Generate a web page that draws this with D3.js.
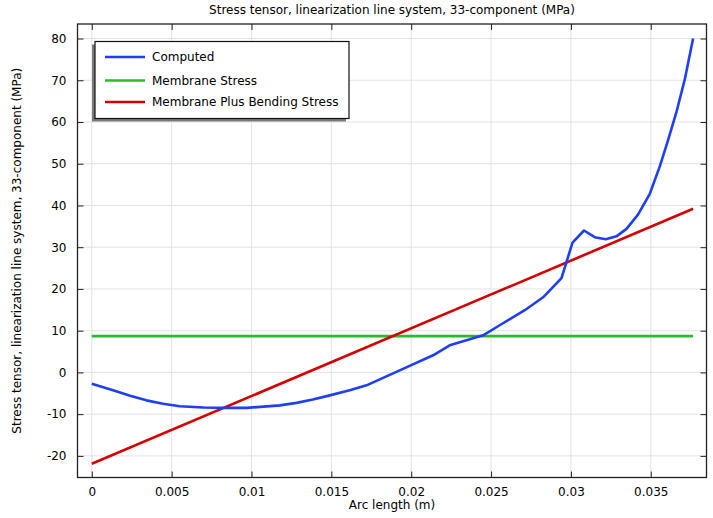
<!DOCTYPE html>
<html>
<head>
<meta charset="utf-8">
<script src="https://cdn.jsdelivr.net/npm/d3@7"></script>
<style>
  body { margin: 0; background: #fff; }
  text { font-family: "DejaVu Sans", sans-serif; fill: #000; }
</style>
</head>
<body>
<div class="vis-chart"></div>
<script>
// arc length (m) and computed stress (MPa)
const arcLength = [0, 0.00133, 0.0024, 0.00342, 0.00446, 0.00551, 0.0070, 0.0083, 0.00969,
  0.01177, 0.01282, 0.01384, 0.0149, 0.01615,
  0.0172, 0.01928, 0.02137, 0.02241, 0.02346, 0.0245, 0.02554, 0.02711, 0.02826, 0.02941,
  0.0301, 0.03082, 0.03149, 0.03218, 0.03285, 0.03348, 0.0342, 0.03494, 0.03556, 0.03608,
  0.03661, 0.03713, 0.03765];
const computed = [-2.7, -4.3, -5.6, -6.7, -7.5, -8.1, -8.4, -8.5, -8.5,
  -7.9, -7.3, -6.5, -5.5, -4.3,
  -3.1, 0.5, 4.1, 6.5, 7.7, 8.9, 11.3, 14.9, 18.0, 22.6,
  31.1, 34.0, 32.4, 31.9, 32.6, 34.4, 37.8, 42.8, 49.3, 55.6,
  62.4, 70.2, 80];
const membraneX = [0, 0.03765];
const membrane = [8.7, 8.7];
const bendingX = [0, 0.03765];
const bending = [-21.9, 39.2];

const xTicks = [0, 0.005, 0.01, 0.015, 0.02, 0.025, 0.03, 0.035];
const yTicks = [-20, -10, 0, 10, 20, 30, 40, 50, 60, 70, 80];
const seriesNames = ['Computed', 'Membrane Stress', 'Membrane Plus Bending Stress'];
const seriesColors = ['#1f3ff5', '#2eb82e', '#d40000'];

const draw = () => {
  const W = 713, H = 518;
  const margin = { top: 24, right: 6.5, bottom: 40.5, left: 77.5 };
  const width = W - margin.left - margin.right;
  const height = H - margin.top - margin.bottom;

  const svg = d3.select('.vis-chart')
    .append('svg')
    .attr('width', W)
    .attr('height', H);
  const g = svg.append('g')
    .attr('transform', `translate(${margin.left},${margin.top})`);

  const x = d3.scaleLinear().domain([-0.000895, 0.03849]).range([0, width]);
  const y = d3.scaleLinear().domain([-25.18, 83.48]).range([height, 0]);

  // grid
  g.append('g').selectAll('line').data(xTicks).join('line')
    .attr('x1', (d) => x(d)).attr('x2', (d) => x(d))
    .attr('y1', 0).attr('y2', height)
    .attr('stroke', '#e3e3e3').attr('stroke-width', 1);
  g.append('g').selectAll('line').data(yTicks).join('line')
    .attr('y1', (d) => y(d)).attr('y2', (d) => y(d))
    .attr('x1', 0).attr('x2', width)
    .attr('stroke', '#e3e3e3').attr('stroke-width', 1);

  // axes with inward ticks, plain hyphen for minus
  const fmtX = (d) => String(+d.toFixed(3));
  const fmtY = (d) => String(d);
  const bottom = g.append('g').attr('transform', `translate(0,${height})`)
    .call(d3.axisBottom(x).tickValues(xTicks).tickSizeInner(-6).tickSizeOuter(0).tickPadding(10).tickFormat(fmtX));
  const top = g.append('g')
    .call(d3.axisTop(x).tickValues(xTicks).tickSizeInner(-6).tickSizeOuter(0).tickFormat(''));
  const left = g.append('g')
    .call(d3.axisLeft(y).tickValues(yTicks).tickSizeInner(-6).tickSizeOuter(0).tickPadding(11).tickFormat(fmtY));
  const right = g.append('g').attr('transform', `translate(${width},0)`)
    .call(d3.axisRight(y).tickValues(yTicks).tickSizeInner(-6).tickSizeOuter(0).tickFormat(''));
  [bottom, top, left, right].forEach((a) => {
    a.select('.domain').remove();
    a.selectAll('line').attr('stroke', '#222');
    a.selectAll('text').style('font-size', '12px').style('font-family', '"DejaVu Sans", sans-serif');
  });

  // frame
  g.append('rect')
    .attr('x', 0).attr('y', 0).attr('width', width).attr('height', height)
    .attr('fill', 'none').attr('stroke', '#222').attr('stroke-width', 1.3);

  // lines
  const line = d3.line().x((d) => x(d[0])).y((d) => y(d[1]));
  g.append('path')
    .datum(d3.zip(membraneX, membrane))
    .attr('fill', 'none').attr('stroke', seriesColors[1]).attr('stroke-width', 2.6)
    .attr('d', line);
  g.append('path')
    .datum(d3.zip(bendingX, bending))
    .attr('fill', 'none').attr('stroke', seriesColors[2]).attr('stroke-width', 2.6)
    .attr('d', line);
  g.append('path')
    .datum(d3.zip(arcLength, computed))
    .attr('fill', 'none').attr('stroke', seriesColors[0]).attr('stroke-width', 2.6)
    .attr('stroke-linejoin', 'round')
    .attr('d', line);

  // legend
  const lg = svg.append('g').attr('transform', 'translate(95,41.5)');
  lg.append('rect').attr('x', -3).attr('y', 3).attr('width', 254).attr('height', 77)
    .attr('fill', '#7a7a7a');
  lg.append('rect').attr('x', 0).attr('y', 0).attr('width', 254).attr('height', 77)
    .attr('fill', '#fff').attr('stroke', '#111').attr('stroke-width', 1.2);
  const rows = [15.5, 39, 60.5];
  seriesNames.forEach((name, i) => {
    lg.append('line')
      .attr('x1', 10).attr('x2', 50).attr('y1', rows[i]).attr('y2', rows[i])
      .attr('stroke', seriesColors[i]).attr('stroke-width', 2.6);
    lg.append('text')
      .attr('x', 57).attr('y', rows[i]).attr('dy', '0.35em')
      .style('font-size', '12px')
      .text(name);
  });

  // titles
  svg.append('text')
    .attr('x', margin.left + width / 2).attr('y', 14)
    .attr('text-anchor', 'middle').style('font-size', '12px')
    .text('Stress tensor, linearization line system, 33-component (MPa)');
  svg.append('text')
    .attr('x', margin.left + width / 2).attr('y', 509)
    .attr('text-anchor', 'middle').style('font-size', '12px')
    .text('Arc length (m)');
  svg.append('text')
    .attr('transform', `translate(21,${margin.top + height / 2}) rotate(-90)`)
    .attr('text-anchor', 'middle').style('font-size', '12px')
    .text('Stress tensor, linearization line system, 33-component (MPa)');
};

draw();
</script>
</body>
</html>
